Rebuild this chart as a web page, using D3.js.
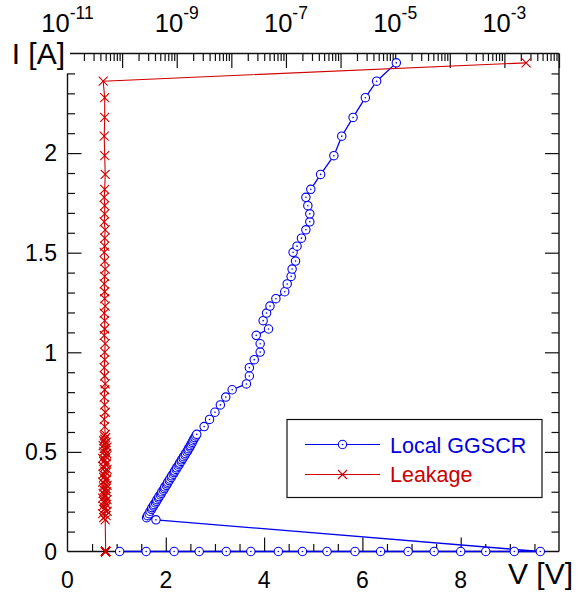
<!DOCTYPE html>
<html>
<head>
<meta charset="utf-8">
<script src="https://cdn.jsdelivr.net/npm/d3@7"></script>
<style>
  html, body { margin: 0; padding: 0; background: #fff; }
  svg { display: block; font-family: "Liberation Sans", Arial, sans-serif; }
</style>
</head>
<body>
<svg id="chart" width="585" height="592"></svg>
<script>
// ---- Data ----
// TLP voltage [V] of each pulse (Local GGSCR)
const voltage = [
  1.06, 1.60, 2.17, 2.68, 3.23, 3.73, 4.29, 4.78, 5.28, 5.85, 6.37, 6.93, 7.46, 8.00, 8.51, 9.09, 9.62,
  1.80,
  1.61, 1.63, 1.66, 1.68, 1.71, 1.72, 1.75, 1.76, 1.79, 1.81,
  1.82, 1.85, 1.86, 1.89, 1.91, 1.92, 1.95, 1.97, 1.98, 2.01,
  2.03, 2.04, 2.07, 2.08, 2.11, 2.12, 2.15, 2.17, 2.18, 2.21,
  2.22, 2.25, 2.27, 2.28, 2.31, 2.32, 2.35, 2.36, 2.39, 2.40,
  2.43, 2.45, 2.46, 2.49, 2.50, 2.52, 2.54, 2.55, 2.57, 2.59,
  2.61, 2.63,
  2.78, 2.89, 3.00, 3.11, 3.22, 3.35, 3.64, 3.70, 3.70, 3.80,
  3.92, 3.92, 3.84, 4.09, 3.98, 4.05, 4.12, 4.24, 4.42, 4.47,
  4.55, 4.57, 4.64, 4.59, 4.67, 4.76, 4.85, 4.93, 4.93, 4.89,
  4.85, 4.95, 5.15, 5.42, 5.58, 5.81, 6.06, 6.29, 6.69
];
// TLP current [A] of each pulse (shared by both series)
const current = [
  0, 0, 0, 0, 0, 0, 0, 0, 0, 0, 0, 0, 0, 0, 0, 0, 0,
  0.159,
  0.170, 0.180, 0.190, 0.202, 0.212, 0.220, 0.228, 0.236, 0.244, 0.252,
  0.260, 0.268, 0.276, 0.284, 0.292, 0.300, 0.308, 0.316, 0.324, 0.332,
  0.340, 0.348, 0.356, 0.364, 0.372, 0.380, 0.388, 0.396, 0.404, 0.412,
  0.420, 0.428, 0.436, 0.444, 0.452, 0.460, 0.468, 0.476, 0.484, 0.492,
  0.500, 0.508, 0.516, 0.524, 0.532, 0.540, 0.548, 0.556, 0.564, 0.572,
  0.580, 0.588,
  0.627, 0.663, 0.699, 0.736, 0.775, 0.812, 0.841, 0.881, 0.923, 0.963,
  1.001, 1.043, 1.085, 1.117, 1.159, 1.197, 1.232, 1.269, 1.304, 1.343,
  1.381, 1.418, 1.458, 1.502, 1.533, 1.573, 1.615, 1.655, 1.695, 1.736,
  1.778, 1.818, 1.893, 1.987, 2.085, 2.179, 2.278, 2.361, 2.453
];
// Leakage current [A] measured after each pulse (top log axis)
const leakage = [
  5.0e-11, 5.0e-11, 5.0e-11, 5.0e-11, 5.0e-11, 5.0e-11, 5.0e-11, 5.0e-11, 5.0e-11, 5.0e-11,
  5.0e-11, 5.0e-11, 5.0e-11, 5.0e-11, 5.0e-11, 5.0e-11, 5.0e-11,
  4.9e-11,
  4.6e-11, 5.1e-11, 4.4e-11, 5.3e-11, 4.7e-11, 5.0e-11, 4.5e-11, 5.2e-11, 4.8e-11, 4.6e-11,
  5.3e-11, 4.4e-11, 5.0e-11, 4.9e-11, 4.5e-11, 5.2e-11, 4.7e-11, 5.1e-11, 4.6e-11, 5.3e-11,
  4.8e-11, 4.4e-11, 5.0e-11, 5.2e-11, 4.6e-11, 4.9e-11, 4.5e-11, 5.1e-11, 4.8e-11, 5.3e-11,
  4.7e-11, 4.5e-11, 5.0e-11, 5.2e-11, 4.6e-11, 4.9e-11, 4.4e-11, 5.1e-11, 4.8e-11, 5.2e-11,
  4.6e-11, 5.0e-11, 4.7e-11, 5.3e-11, 4.5e-11, 4.9e-11, 5.1e-11, 4.6e-11, 4.8e-11, 5.0e-11,
  4.7e-11, 4.9e-11,
  4.8e-11, 4.7e-11, 4.9e-11, 4.8e-11, 4.7e-11, 4.8e-11, 4.9e-11, 4.8e-11, 4.7e-11, 4.8e-11,
  4.8e-11, 4.9e-11, 4.7e-11, 4.8e-11, 4.8e-11, 4.7e-11, 4.9e-11, 4.8e-11, 4.8e-11, 4.7e-11,
  4.8e-11, 4.9e-11, 4.8e-11, 4.7e-11, 4.8e-11, 4.8e-11, 4.9e-11, 4.7e-11, 4.8e-11, 4.8e-11,
  4.7e-11, 4.8e-11, 4.9e-11, 4.8e-11, 4.7e-11, 4.8e-11, 4.8e-11, 4.5e-11, 2.5e-3
];
const seriesNames = ["Local GGSCR", "Leakage"];
const xTickLabels = [0, 2, 4, 6, 8];
const yTickLabels = [0, 0.5, 1, 1.5, 2];
const topTickExponents = [-11, -9, -7, -5, -3];
const xAxisTitle = "V [V]";
const yAxisTitle = "I [A]";

(function () {
// ---- Layout ----
const svg = d3.select("#chart");
const pL = 67.5, pR = 559, pT = 53.5, pB = 551.5;
const blue = "#0000f0", red = "#d00000";

const x = d3.scaleLinear().domain([0, 10]).range([pL, pR]);
const y = d3.scaleLinear().domain([0, 2.5]).range([pB, pT]);
const xTop = d3.scaleLog().domain([1e-11, 1e-2]).range([pL, pR]);

const axisColor = "#111";

// minor / major tick values
const xMinor = d3.range(0, 10.001, 0.5).filter(v => Math.abs(v / 2 - Math.round(v / 2)) > 1e-6);
const xMajor = [2, 4, 6, 8];
const yMinorL = d3.range(0, 2.4001, 0.1).map(v => +v.toFixed(2)).filter(v => Math.abs(v * 2 - Math.round(v * 2)) > 1e-6);
const yMajorL = [0.5, 1, 1.5, 2];
const yMinorR = d3.range(0, 2.5001, 0.1).map(v => +v.toFixed(2)).filter(v => Math.abs(v * 2 - Math.round(v * 2)) > 1e-6);
const topMajor = d3.range(-10, -2 + 1).map(e => Math.pow(10, e));
const topMinor = [];
for (let e = -11; e < -2; e++) for (let k = 2; k <= 9; k++) topMinor.push(k * Math.pow(10, e));

function styleAxis(g) {
  g.select(".domain").remove();
  g.selectAll("line").attr("stroke", axisColor).attr("stroke-width", 1.2);
  g.selectAll("text").remove();
}

// bottom ticks (inward)
svg.append("g").attr("transform", `translate(0,${pB})`)
  .call(d3.axisBottom(x).tickValues(xMinor).tickSize(-7.5).tickFormat("")).call(styleAxis);
svg.append("g").attr("transform", `translate(0,${pB})`)
  .call(d3.axisBottom(x).tickValues(xMajor).tickSize(-14).tickFormat("")).call(styleAxis);
// left ticks
svg.append("g").attr("transform", `translate(${pL},0)`)
  .call(d3.axisLeft(y).tickValues(yMinorL).tickSize(-7.5).tickFormat("")).call(styleAxis);
svg.append("g").attr("transform", `translate(${pL},0)`)
  .call(d3.axisLeft(y).tickValues(yMajorL).tickSize(-14).tickFormat("")).call(styleAxis);
// right ticks
svg.append("g").attr("transform", `translate(${pR},0)`)
  .call(d3.axisRight(y).tickValues(yMinorR).tickSize(-7.5).tickFormat("")).call(styleAxis);
svg.append("g").attr("transform", `translate(${pR},0)`)
  .call(d3.axisRight(y).tickValues(yMajorL).tickSize(-14).tickFormat("")).call(styleAxis);
// top log ticks
svg.append("g").attr("transform", `translate(0,${pT})`)
  .call(d3.axisTop(xTop).tickValues(topMinor).tickSize(-7.5).tickFormat("")).call(styleAxis);
svg.append("g").attr("transform", `translate(0,${pT})`)
  .call(d3.axisTop(xTop).tickValues(topMajor).tickSize(-14.5).tickFormat("")).call(styleAxis);

// axis lines
const axisLines = svg.append("g").attr("stroke", axisColor).attr("stroke-width", 1.4);
axisLines.append("line").attr("x1", pL).attr("x2", pR).attr("y1", pB).attr("y2", pB);
axisLines.append("line").attr("x1", pL).attr("x2", pL).attr("y1", y(2.4)).attr("y2", pB);
axisLines.append("line").attr("x1", pR).attr("x2", pR).attr("y1", pT).attr("y2", pB);
axisLines.append("line").attr("x1", xTop(1e-11) + 2.5).attr("x2", pR).attr("y1", pT).attr("y2", pT);

// tick labels
svg.append("g").selectAll("text").data(xTickLabels).join("text")
  .attr("x", d => x(d)).attr("y", 588).attr("text-anchor", "middle")
  .attr("font-size", 23).attr("fill", "#000").text(d => d);
svg.append("g").selectAll("text").data(yTickLabels).join("text")
  .attr("x", 57).attr("y", d => y(d)).attr("dy", "0.36em").attr("text-anchor", "end")
  .attr("font-size", 23).attr("fill", "#000").text(d => d);
const topLab = svg.append("g").selectAll("text").data(topTickExponents).join("text")
  .attr("x", d => xTop(Math.pow(10, d))).attr("y", 31.5).attr("text-anchor", "middle").attr("fill", "#000");
topLab.append("tspan").attr("font-size", 25.5).text("10");
topLab.append("tspan").attr("font-size", 17.5).attr("dy", -13).text(d => String(d));

// axis titles
svg.append("text").attr("x", 573).attr("y", 583.5).attr("text-anchor", "end")
  .attr("font-size", 30).attr("fill", "#000").text(xAxisTitle);
svg.append("text").attr("x", 65).attr("y", 63.5).attr("text-anchor", "end")
  .attr("font-size", 30).attr("fill", "#000").text(yAxisTitle);

// ---- Series ----
const pts = voltage.map((v, i) => ({ v, i: current[i], leak: leakage[i] }));

// Local GGSCR (V vs I)
svg.append("path").datum(pts)
  .attr("d", d3.line().x(d => x(d.v)).y(d => y(d.i)))
  .attr("fill", "none").attr("stroke", blue).attr("stroke-width", 1.3);
const circ = svg.append("g").selectAll("g").data(pts).join("g")
  .attr("transform", d => `translate(${x(d.v)},${y(d.i)})`);
circ.append("circle").attr("r", 4.2).attr("fill", "#fff").attr("stroke", blue).attr("stroke-width", 1.1);
circ.append("circle").attr("r", 0.8).attr("fill", blue);

// Leakage (log leak vs I)
svg.append("path").datum(pts)
  .attr("d", d3.line().x(d => xTop(d.leak)).y(d => y(d.i)))
  .attr("fill", "none").attr("stroke", red).attr("stroke-width", 1.1);
const xMark = "M-4.5,-4.5L4.5,4.5M-4.5,4.5L4.5,-4.5";
svg.append("g").selectAll("path").data(pts).join("path")
  .attr("transform", d => `translate(${xTop(d.leak)},${y(d.i)})`)
  .attr("d", xMark).attr("fill", "none").attr("stroke", red).attr("stroke-width", 1.1);

// ---- Legend ----
const lg = svg.append("g");
lg.append("rect").attr("x", 287).attr("y", 419.5).attr("width", 255).attr("height", 78)
  .attr("fill", "#fff").attr("stroke", "#111").attr("stroke-width", 1.2);
const legendItems = [
  { name: seriesNames[0], color: blue, textColor: "#0000e0", ly: 444.5, ty: 452.5, mark: "circle" },
  { name: seriesNames[1], color: red, textColor: "#cc0000", ly: 474.5, ty: 481.5, mark: "x" }
];
legendItems.forEach(it => {
  lg.append("line").attr("x1", 305).attr("x2", 380).attr("y1", it.ly).attr("y2", it.ly)
    .attr("stroke", it.color).attr("stroke-width", 1.2);
  if (it.mark === "circle") {
    lg.append("circle").attr("cx", 342.5).attr("cy", it.ly).attr("r", 4.2)
      .attr("fill", "#fff").attr("stroke", it.color).attr("stroke-width", 1.1);
    lg.append("circle").attr("cx", 342.5).attr("cy", it.ly).attr("r", 0.8).attr("fill", it.color);
  } else {
    lg.append("path").attr("transform", `translate(342.5,${it.ly})`).attr("d", xMark)
      .attr("fill", "none").attr("stroke", it.color).attr("stroke-width", 1.1);
  }
  lg.append("text").attr("x", 390).attr("y", it.ty).attr("font-size", 21.5)
    .attr("fill", it.textColor).text(it.name);
});
})();
</script>
</body>
</html>
